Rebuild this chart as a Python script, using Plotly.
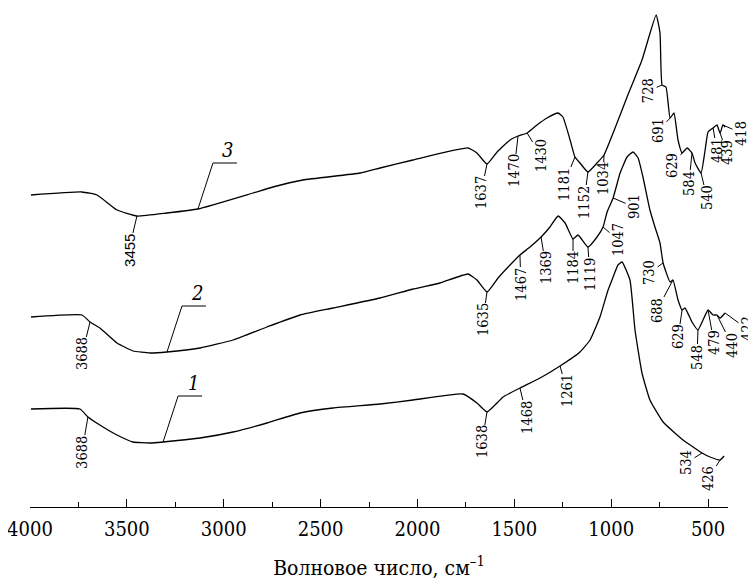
import numpy as np
import plotly.graph_objects as go

# ---------------- data ----------------
wn1 = [3995, 3742, 3701, 3623, 3551, 3468, 3381, 3313, 3122, 2952, 2777, 2606, 2436, 2193,
       2023, 1765, 1693, 1641, 1558, 1471, 1367, 1264, 1161, 1109, 1058, 1016, 990, 965, 944,
       903, 877, 841, 800, 732, 629, 531, 490, 438, 417]
y1 = [98, 98, 90, 80, 72, 65, 64, 65, 69, 75, 84, 94, 99, 103,
      107, 113, 104, 95, 110, 119, 129, 141, 155, 167, 190, 217, 230, 242, 245,
      227, 177, 134, 107, 85, 67, 54, 50, 47, 51]

wn2 = [3995, 3732, 3690, 3639, 3551, 3468, 3381, 3293, 3122, 2952, 2777, 2606, 2436, 2193,
       2023, 1884, 1739, 1693, 1641, 1584, 1522, 1471, 1419, 1362, 1316, 1274, 1238, 1197,
       1171, 1120, 1073, 1042, 1021, 990, 954, 918, 887, 861, 836, 800, 774, 748, 732, 696,
       681, 655, 634, 619, 583, 552, 526, 500, 474, 454, 438, 412]
y2 = [190, 192, 185, 179, 164, 156, 154, 155, 159, 167, 180, 192, 199, 209,
      218, 224, 233, 227, 215, 229, 242, 252, 260, 270, 280, 291, 284, 268,
      272, 260, 270, 280, 295, 309, 334, 350, 355, 349, 330, 297, 280, 264, 244, 225,
      227, 207, 197, 199, 185, 177, 187, 197, 192, 192, 189, 194]

wn3 = [3995, 3732, 3654, 3551, 3448, 3293, 3133, 2849, 2746, 2591, 2296, 2193, 2023, 1739,
       1693, 1641, 1589, 1522, 1481, 1434, 1383, 1331, 1274, 1249, 1212, 1187, 1161, 1120,
       1073, 1037, 990, 918, 841, 768, 748, 737, 717, 696, 676, 655, 634, 608, 583, 567,
       536, 515, 500, 474, 454, 438, 423, 412]
y3 = [312, 315, 312, 297, 291, 294, 298, 314, 320, 327, 334, 339, 347, 359,
      354, 343, 355, 367, 371, 374, 382, 389, 394, 390, 367, 350, 344, 335,
      344, 352, 374, 410, 447, 492, 474, 422, 420, 389, 394, 367, 354, 359, 354, 344,
      334, 357, 375, 379, 382, 374, 382, 380]

peaks1_text = ["3688", "1638", "1468", "1261", "534", "426"]
peaks1_wn = [3701, 1641, 1471, 1264, 531, 438]
peaks2_text = ["3688", "1635", "1467", "1369", "1184", "1119", "1047", "901", "730", "688",
               "629", "548", "479", "440", "422"]
peaks2_wn = [3690, 1641, 1471, 1362, 1197, 1120, 1042, 990, 732, 681, 634, 552, 500, 454, 412]
peaks3_text = ["3455", "1637", "1470", "1430", "1181", "1152", "1034", "728", "691", "629",
               "584", "540", "481", "439", "418"]
peaks3_wn = [3448, 1641, 1481, 1434, 1187, 1120, 1037, 737, 696, 634, 583, 536, 474, 438, 423]

curve_names = ["1", "2", "3"]
curve_label_wn = [3313, 3293, 3133]

x_ticks = [4000, 3500, 3000, 2500, 2000, 1500, 1000, 500]
x_title = "Волновое число, см<sup>–1</sup>"

off1 = [(-6, 35), (-5, 30), (7, 29), (7, 25), (-16, 10), (-12, 19)]
off2 = [(-8, 32), (-4, 28), (1, 29), (5, 31), (0, 29), (2, 27), (15, 13), (21, 9), (-14, 10),
        (-16, 30), (-4, 27), (-1, 27), (6, 33), (15, 30), (22, 16)]
off3 = [(-8, 34), (-6, 29), (-4, 35), (14, 23), (-11, 27), (-4, 30), (-1, 24), (-14, 6),
        (-12, 13), (-10, 13), (-3, 30), (6, 25), (4, 23), (7, 20), (18, 8)]

SERIF = "DejaVu Serif Condensed, DejaVu Serif, serif"
SANS = "Liberation Sans, Arial, sans-serif"

fig = go.Figure()
curves = [(wn1, y1), (wn2, y2), (wn3, y3)]
for wn, yy in curves:
    fig.add_trace(go.Scatter(x=wn, y=yy, mode="lines",
                             line=dict(color="black", width=1.3, shape="spline", smoothing=0.4),
                             hoverinfo="skip", showlegend=False))


def yat(wn, yy, x):
    return float(np.interp(x, wn[::-1], yy[::-1]))


annotations = []
label_sets = [(peaks1_text, peaks1_wn, off1, 0), (peaks2_text, peaks2_wn, off2, 1),
              (peaks3_text, peaks3_wn, off3, 2)]
for texts, wns, offs, ci in label_sets:
    wn, yy = curves[ci]
    for t, w, (ax, ay) in zip(texts, wns, offs):
        fam = SANS if t == "3455" else SERIF
        fs = 15 if t == "3455" else 14.5
        annotations.append(dict(
            x=w, y=yat(wn, yy, w), xref="x", yref="y", text=t, textangle=-90,
            showarrow=True, arrowhead=0, arrowwidth=1, arrowcolor="black",
            ax=ax, ay=ay, font=dict(family=fam, size=fs, color="black"), borderpad=0))

shapes = []
for name, w, (wn, yy) in zip(curve_names, curve_label_wn, curves):
    yv = yat(wn, yy, w)
    shapes.append(dict(type="path", xref="x", yref="y", xsizemode="pixel", ysizemode="pixel",
                       xanchor=w, yanchor=yv, path="M0,0 L15,46 L39,46",
                       line=dict(color="black", width=1)))
    annotations.append(dict(x=w, y=yv, xref="x", yref="y", text="<i>%s</i>" % name,
                            showarrow=False, xshift=30, yshift=59,
                            font=dict(family=SERIF, size=20, color="black")))

# the page body adds an 8 px offset, so the margins compensate for it
fig.update_layout(
    width=756, height=581,
    margin=dict(l=22, r=36, t=0, b=82, autoexpand=False),
    paper_bgcolor="white", plot_bgcolor="white",
    annotations=annotations, shapes=shapes,
    xaxis=dict(range=[4000, 397], tickvals=x_ticks, ticks="inside", ticklen=8, tickwidth=1,
               tickcolor="black", showline=True, linecolor="black", linewidth=1.2,
               showgrid=False, zeroline=False, automargin=False,
               ticklabeloverflow="allow", ticklabelstandoff=4,
               minor=dict(dtick=250, tick0=0, ticks="inside", ticklen=5, tickwidth=1,
                          tickcolor="black", showgrid=False),
               tickfont=dict(family=SERIF, size=20, color="black"),
               title=dict(text=x_title, font=dict(family=SERIF, size=21, color="black"),
                          standoff=20)),
    yaxis=dict(range=[0, 499], visible=False, showgrid=False, zeroline=False),
)

fig.write_html("out.html")
